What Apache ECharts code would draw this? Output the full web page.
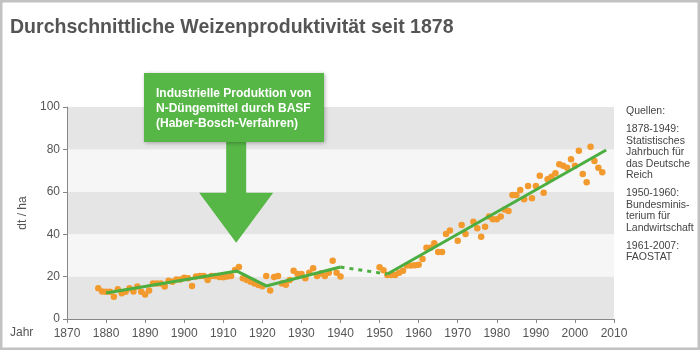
<!DOCTYPE html>
<html><head><meta charset="utf-8">
<script src="https://cdn.jsdelivr.net/npm/echarts@6/dist/echarts.min.js"></script>
<style>html,body{margin:0;padding:0;background:#fff}#c{width:700px;height:350px}</style>
</head><body><div id="c"></div>
<script>
const title = 'Durchschnittliche Weizenproduktivität seit 1878';
const yTicks = [0, 20, 40, 60, 80, 100];
const xTicks = [1870, 1880, 1890, 1900, 1910, 1920, 1930, 1940, 1950, 1960, 1970, 1980, 1990, 2000, 2010];
const years = [1878,1879,1880,1881,1882,1883,1884,1885,1886,1887,1888,1889,1890,1891,1892,1893,1894,1895,1896,1897,1898,1899,1900,1901,1902,1903,1904,1905,1906,1907,1908,1909,1910,1911,1912,1913,1914,1915,1916,1917,1918,1919,1920,1921,1922,1923,1924,1925,1926,1927,1928,1929,1930,1931,1932,1933,1934,1935,1936,1937,1938,1939,1940,
 1950,1951,1952,1953,1954,1955,1956,1957,1958,1959,1960,1961,1962,1963,1964,1965,1966,1967,1968,1970,1971,1972,1974,1975,1976,1977,1978,1979,1980,1981,1982,1983,1984,1985,1986,1987,1988,1989,1990,1991,1992,1993,1994,1995,1996,1997,1998,1999,2000,2001,2002,2003,2004,2005,2006,2007];
const yields = [14.5,13,12.8,12.9,10.5,14,12.1,12.9,14.5,13,15.3,12.9,11.6,13.5,16.8,16.8,16.8,15.3,18.1,17.6,18.6,18.6,19.5,19.2,15.6,20,20.3,20.3,18.4,20.3,20.3,19.8,19.7,20,20.3,23.1,24.5,19.2,18.4,17.6,16.8,16,15.5,20.3,13.4,19.8,20.3,16.8,16.2,18.4,22.8,21.2,21.2,19.2,21.8,23.9,20.3,21.5,20.3,21.8,27.5,21.8,20,
 24.4,23,20.8,20.8,20.8,21.8,22.8,25.2,25.2,25.4,25.6,28.3,33.6,33.6,35.7,31.6,31.6,40.1,41.7,36.9,44.3,40.1,45.9,42.8,38.8,43.5,48.3,47,47,48.3,51.7,51,58.5,58.5,60.8,56.5,62.7,56.9,62.7,67.6,59.6,65.9,67.1,68.7,73,72.3,71.4,75.3,72.3,79.4,68.4,64.5,81.3,74.5,71.4,69.2];
const trendSolidA = [[1880,12.3],[1913.5,22.6],[1921,15.6],[1940,24.5]];
const trendDotted = [[1940,24.5],[1952,21.2]];
const trendSolidB = [[1952,21.2],[2008,79.7]];
const noteLines = ['Industrielle Produktion von','N-Düngemittel durch BASF','(Haber-Bosch-Verfahren)'];
const noteYear = 1913.3;
const noteTipValue = 36;
const sources = ['Quellen:','','1878-1949:','Statistisches','Jahrbuch für','das Deutsche','Reich','','1950-1960:','Bundesminis-','terium für','Landwirtschaft','','1961-2007:','FAOSTAT'];

const GREEN = '#56b646';
const chart = echarts.init(document.getElementById('c'), null, {renderer:'canvas'});
const font = 'Liberation Sans, Arial, sans-serif';
chart.setOption({
  animation:false,
  backgroundColor:'#fff',
  grid:{left:67,right:86,top:107,bottom:31},
  xAxis:{type:'value',min:xTicks[0],max:xTicks[xTicks.length-1],interval:10,
    axisLine:{lineStyle:{color:'#888'}},axisTick:{lineStyle:{color:'#888'},length:4},
    axisLabel:{color:'#555',fontSize:12,fontFamily:font,margin:9,formatter:v=>String(v)},
    splitLine:{show:false}},
  yAxis:{type:'value',min:yTicks[0],max:yTicks[yTicks.length-1],interval:20,
    name:'dt / ha',nameLocation:'middle',nameGap:36,nameTextStyle:{color:'#555',fontSize:12,fontFamily:font},
    axisLine:{show:true,lineStyle:{color:'#888'}},axisTick:{show:true,lineStyle:{color:'#888'},length:4},
    axisLabel:{color:'#555',fontSize:12,fontFamily:font,margin:7},
    splitLine:{show:false},
    splitArea:{show:true,areaStyle:{color:['#e5e5e5','#f6f6f6']}}},
  series:[
    {type:'scatter',data:years.map((y,i)=>[y,yields[i]]),symbolSize:6.5,itemStyle:{color:'#f29a2e',opacity:1},z:3},
    {type:'line',data:trendSolidA,symbol:'none',lineStyle:{color:'#4cae40',width:3},z:4},
    {type:'line',data:trendDotted,symbol:'none',lineStyle:{color:'#4cae40',width:3,type:[4,5]},z:4},
    {type:'line',data:trendSolidB,symbol:'none',lineStyle:{color:'#4cae40',width:3},z:4}
  ]
});

const tip = chart.convertToPixel({gridIndex:0},[noteYear,noteTipValue]);
const cx = tip[0], ty = tip[1];
const boxTop = 73, boxBottom = 142, boxLeft = 144, boxRight = 324;
const headY = ty - 50;
const srcEls = [];
let yy = 112;
sources.forEach(s=>{
  if(s===''){yy += 6.5; return;}
  srcEls.push({type:'text',left:626,top:yy-6,style:{text:s,fill:'#444',font:'10.5px Liberation Sans, Arial, sans-serif'}});
  yy += 11.5;
});
chart.setOption({graphic:[
  {type:'rect',shape:{x:1,y:1,width:698,height:348},style:{fill:'none',stroke:'#c2c2c2',lineWidth:3},z:100},
  {type:'text',x:10,y:17,scaleX:0.93,style:{text:title,fill:'#555',font:'bold 21px Liberation Sans, Arial, sans-serif'}},
  {type:'polygon',shape:{points:[[cx-10,boxBottom],[cx+10,boxBottom],[cx+10,headY],[cx+37,headY],[cx,ty],[cx-37,headY],[cx-10,headY]]},style:{fill:GREEN},z:50},
  {type:'rect',shape:{x:boxLeft,y:boxTop,width:boxRight-boxLeft,height:boxBottom-boxTop},style:{fill:GREEN,shadowBlur:4,shadowColor:'rgba(0,0,0,0.3)',shadowOffsetX:1,shadowOffsetY:1},z:51},
  {type:'text',left:156,top:86,z:52,style:{text:noteLines.join('\n'),fill:'#fff',font:'bold 12px Liberation Sans, Arial, sans-serif',lineHeight:15}},
  {type:'text',left:10,top:327,style:{text:'Jahr',fill:'#555',font:'12px Liberation Sans, Arial, sans-serif'}},
  ...srcEls
]});
</script></body></html>
